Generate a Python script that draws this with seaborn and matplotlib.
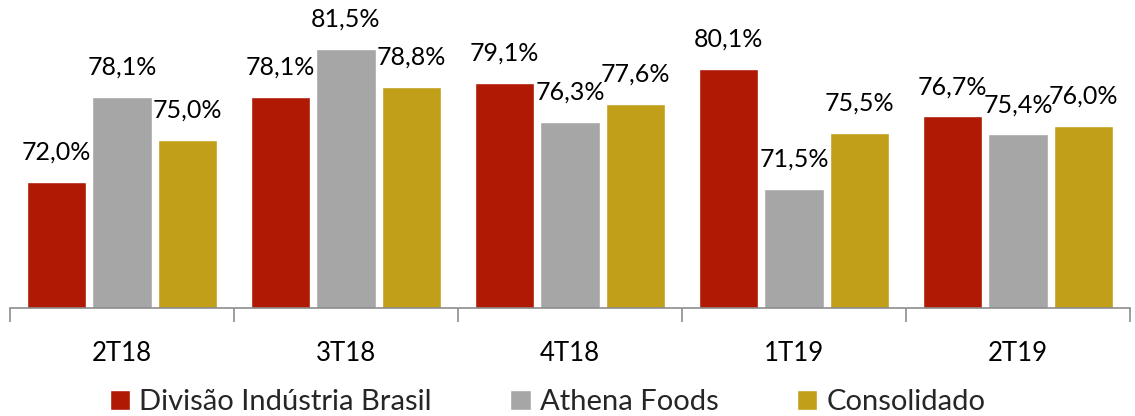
import pandas as pd
import seaborn as sns
import matplotlib.pyplot as plt

# quarters and series values (%)
quarters = ['2T18', '3T18', '4T18', '1T19', '2T19']
series = ['Divisão Indústria Brasil', 'Athena Foods', 'Consolidado']
industria = [72.0, 78.1, 79.1, 80.1, 76.7]
athena = [78.1, 81.5, 76.3, 71.5, 75.4]
consolidado = [75.0, 78.8, 77.6, 75.5, 76.0]
colors = ['#B01A04', '#A6A6A6', '#C19F18']

df = pd.DataFrame({
    'quarter': quarters * 3,
    'serie': [series[0]] * 5 + [series[1]] * 5 + [series[2]] * 5,
    'valor': industria + athena + consolidado,
})

sns.set_style('white')
plt.rcParams['font.family'] = ['Lato', 'DejaVu Sans']

fig = plt.figure(figsize=(11.35, 4.16), dpi=100)
ax = fig.add_axes([10 / 1135, 108 / 416, 1120 / 1135, 308 / 416])

sns.barplot(data=df, x='quarter', y='valor', hue='serie', palette=colors,
            width=0.877, gap=0.09, saturation=1, ax=ax, legend=True)

for cont in ax.containers:
    ax.bar_label(cont, labels=[f'{v:.1f}%'.replace('.', ',') for v in cont.datavalues],
                 padding=13, fontsize=18, color='black')

ax.set_ylim(63, 85)
ax.set_xlim(-0.5, 4.5)
ax.set_yticks([])
ax.set_xlabel('')
ax.set_ylabel('')
for s in ['top', 'right', 'left']:
    ax.spines[s].set_visible(False)
ax.spines['bottom'].set_color('#8C8C8C')
ax.spines['bottom'].set_linewidth(1.2)

# tick marks sit between the groups
ax.set_xticks([-0.5, 0.5, 1.5, 2.5, 3.5, 4.5], minor=True)
ax.tick_params(axis='x', which='minor', length=10, width=1.2, color='#8C8C8C', bottom=True)
ax.tick_params(axis='x', which='major', length=0, pad=24, labelsize=18.5, labelcolor='black')

leg = ax.legend(loc='lower left', bbox_to_anchor=(110 / 1135, 1 / 416), bbox_transform=fig.transFigure,
                ncol=3, frameon=False, fontsize=21, handlelength=0.7, handleheight=0.7,
                handletextpad=0.3, columnspacing=2.7, borderaxespad=0, borderpad=0)

fig.savefig('out.png', dpi=100)
